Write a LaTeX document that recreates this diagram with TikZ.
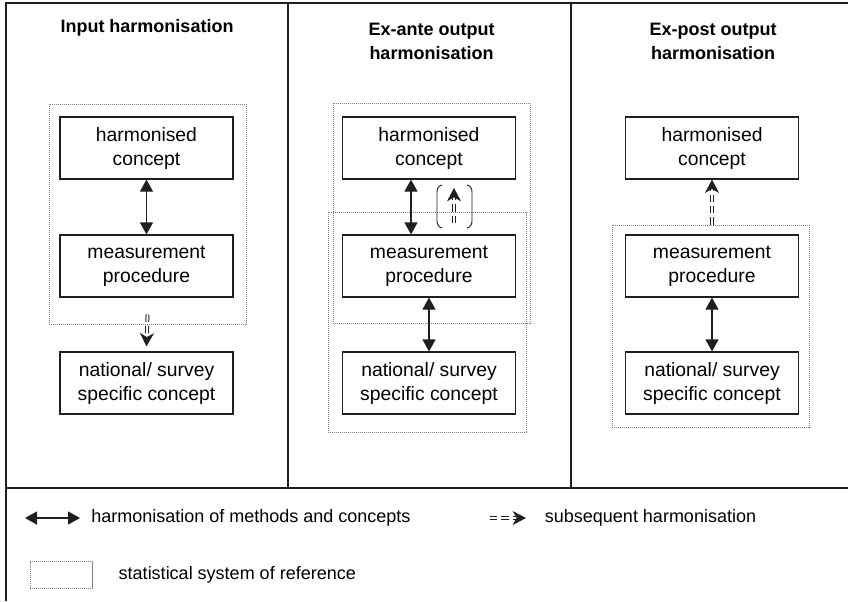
\documentclass[tikz,border=0pt]{standalone}
\usepackage{fontspec}
\setmainfont{Liberation Sans}
\usepackage{tikz}
\usetikzlibrary{arrows.meta, positioning}
\definecolor{trait}{gray}{0.12}
\definecolor{pointille}{gray}{0.5}

\tikzset{
	cadre/.style={draw=trait, line width=1.2pt},
	concept/.style={draw=trait, line width=0.9pt, minimum width=129.75pt,
		minimum height=46.5pt, inner sep=0pt, align=center,
		font=\fontsize{14.5}{18}\selectfont},
	refsys/.style={draw=pointille, line width=0.7pt, dash pattern=on 0.8pt off 0.7pt,
		inner sep=0pt},
	titre/.style={align=center, font=\fontsize{13.5}{18}\selectfont\bfseries},
	legende/.style={inner sep=0pt, font=\fontsize{13.5}{16}\selectfont},
	harmo/.style={draw=trait, line width=0.9pt,
		{Triangle[length=9pt,width=9.75pt]}-{Triangle[length=9pt,width=9.75pt]}},
	subseq/.style={draw=trait, double, double distance=1.4pt, line width=0.75pt,
		dash pattern=on 5.5pt off 3pt, -{Stealth[length=10pt,width=10.5pt,inset=3pt]}},
}

\begin{document}
\begin{tikzpicture}[x=0.75pt, y=-0.75pt]
				\useasboundingbox (0,0) rectangle (848,601);
				
				\draw[cadre] (6,601) -- (6,3) -- (848,3);
				\draw[cadre] (288,3) -- (288,488);
				\draw[cadre] (571,3) -- (571,488);
				\draw[cadre] (6,488) -- (848,488);
				
				\node[titre] (tA) at (147,28) {Input harmonisation};
				\node[titre] (tB) at (431.5,41) {Ex-ante output\\harmonisation};
				\node[titre] (tC) at (713,41) {Ex-post output\\harmonisation};
				
				\node[refsys, minimum width=147.75pt, minimum height=165pt]
				(sysA) at (147.5,214) {};
				\node[concept] (hcA) at (146.5,148) {harmonised\\concept};
				\node[concept] (mpA) at (146.5,266) {measurement\\procedure};
				\node[concept] (nsA) at (146.5,383) {national/ survey\\specific concept};
				
				\node[refsys, minimum width=147.75pt, minimum height=165pt]
				(sysB1) at (431.5,213) {};
				\node[refsys, minimum width=148.5pt, minimum height=165pt]
				(sysB2) at (427,322) {};
				\node[concept] (hcB) at (429,148) {harmonised\\concept};
				\node[concept] (mpB) at (429,266) {measurement\\procedure};
				\node[concept] (nsB) at (429,383) {national/ survey\\specific concept};
				
				\node[refsys, minimum width=147.75pt, minimum height=151.5pt]
				(sysC) at (710.5,326) {};
				\node[concept] (hcC) at (712,148) {harmonised\\concept};
				\node[concept] (mpC) at (712,266) {measurement\\procedure};
				\node[concept] (nsC) at (712,383) {national/ survey\\specific concept};
				
				\draw[harmo] (hcA) -- (mpA);
				\draw[subseq] ([yshift=7.5pt]sysA.south) -- ([yshift=3.75pt]nsA.north);
				
				\draw[harmo] ([xshift=-13.5pt]hcB.south) -- ([xshift=-13.5pt]mpB.north);
				\draw[harmo] (mpB) -- (nsB);
				\coordinate (upB1) at (454,223);
				\coordinate (upB2) at (454,188);
				\draw[subseq] (upB1) -- (upB2);
				\draw[trait, line width=0.7pt] (442,185) to[out=190,in=90] (437,192)
				-- (437,221) to[out=-90,in=170] (442,228);
				\draw[trait, line width=0.7pt] (467,185) to[out=-10,in=90] (472,192)
				-- (472,221) to[out=-90,in=10] (467,228);
				
				\draw[subseq] (sysC.north -| hcC.south) -- (hcC.south);
				\draw[harmo] (mpC) -- (nsC);
				
				\coordinate (lh1) at (25,518);
				\coordinate (lh2) at (80,518);
				\draw[harmo] (lh1) -- (lh2);
				\node[legende, right=8.25pt of lh2] (lhtxt) {harmonisation of methods and concepts};
				
				\coordinate (ls1) at (490,518);
				\coordinate (ls2) at (526,518);
				\draw[subseq] (ls1) -- (ls2);
				\node[legende, right=14pt of ls2] (lstxt) {subsequent harmonisation};
				
				\node[refsys, minimum width=46.5pt, minimum height=20.25pt]
				(lsys) at (61,575) {};
				\node[legende, right=19.5pt of lsys] (lsystxt) {statistical system of reference};
			\end{tikzpicture}
\end{document}
